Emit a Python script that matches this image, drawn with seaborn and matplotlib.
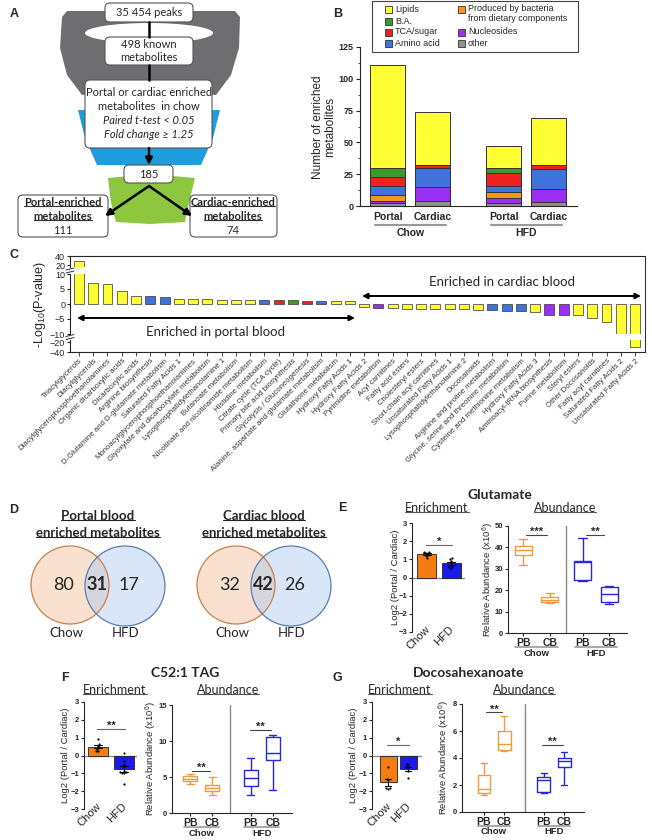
import matplotlib
matplotlib.use('Agg')
import matplotlib.pyplot as plt
from matplotlib.patches import Polygon, Ellipse, Circle, FancyBboxPatch, Rectangle
from matplotlib.ticker import MultipleLocator
import matplotlib.transforms as mtransforms
import numpy as np
import pandas as pd
import seaborn as sns

sns.set_style('ticks')
plt.rcParams['font.family'] = ['Liberation Sans', 'DejaVu Sans']
plt.rcParams['mathtext.default'] = 'regular'
plt.rcParams['axes.linewidth'] = 0.8

CAL = ['Lato', 'DejaVu Sans']

# ---------------- data ----------------
peaks_n = '35 454'
known_n = 498
enriched_n = 185
portal_n = 111
cardiac_n = 74

b_sites = ['Portal', 'Cardiac', 'Portal', 'Cardiac']
b_diets = ['Chow', 'HFD']
b_pos = [0, 1, 2.57, 3.57]
bact = 'Produced by bacteria\nfrom dietary components'
b_classes = ['other', 'Nucleosides', bact, 'Amino acid', 'TCA/sugar', 'B.A.', 'Lipids']
b_other = [2, 4, 2, 3]
b_nucleosides = [2, 11, 4, 10]
b_bacteria = [5, 0, 5, 0]
b_amino = [7, 15, 5, 16]
b_tca = [7, 2, 10, 3]
b_ba = [7, 0, 4, 0]
b_lipids = [81, 42, 17, 37]

pal = {'Lipids': '#ffff33', 'B.A.': '#3a9a2a', 'TCA/sugar': '#ee2020',
       'Amino acid': '#3f72dc', bact: '#f7941d', 'Nucleosides': '#9b30f5',
       'other': '#909090'}

c_labels = ['Triacylglycerols', 'Diacylglycerols', 'Diacylglycerophosphoethanolamines',
            'Organic dicarboxylic acids', 'Dicarboxylic acids', 'Arginine biosynthesis',
            'D-Glutamine and D-glutamate metabolism', 'Saturated Fatty Acids 1',
            'Monoacylglycerophosphoethanolamines', 'Glyoxylate and dicarboxylate metabolism',
            'Lysophosphatidylethanolamine 1', 'Butanoate metabolism',
            'Nicotinate and nicotinamide metabolism', 'Histidine metabolism',
            'Citrate cycle (TCA cycle)', 'Primary bile acid biosynthesis',
            'Glycolysis / Gluconeogenesis', 'Alanine, aspartate and glutamate metabolism',
            'Glutathione metabolism', 'Hydroxy Fatty Acids 1', 'Hydroxy Fatty Acids 2',
            'Pyrimidine metabolism', 'Acyl carnitines', 'Fatty acid esters',
            'Cholesteryl esters', 'Short-chain acyl carnitines', 'Unsaturated Fatty Acids 1',
            'Lysophosphatidylethanolamine 2', 'Docosanoids', 'Arginine and proline metabolism',
            'Glycine, serine and threonine metabolism', 'Cysteine and methionine metabolism',
            'Hydroxy Fatty Acids 3', 'Aminoacyl-tRNA biosynthesis', 'Purine metabolism',
            'Steryl esters', 'Other Docosanoids', 'Fatty acyl carnitines',
            'Saturated Fatty Acids 2', 'Unsaturated Fatty Acids 2']
c_values = [30, 7.0, 6.7, 4.2, 2.8, 2.6, 2.2, 1.8, 1.7, 1.7, 1.5, 1.4, 1.4, 1.3, 1.2, 1.2,
            1.0, 0.9, 0.9, 0.9, -1.1, -1.3, -1.4, -1.5, -1.6, -1.7, -1.7, -1.8, -1.9, -2.1,
            -2.3, -2.3, -2.8, -3.6, -3.7, -3.8, -4.8, -6.0, -9.9, -30]
L, A, T, B, N = 'Lipids', 'Amino acid', 'TCA/sugar', 'B.A.', 'Nucleosides'
c_classes = [L, L, L, L, L, A, A, L, L, L, L, L, L, A, T, B, T, A, L, L,
             L, N, L, L, L, L, L, L, L, A, A, A, L, N, N, L, L, L, L, L]

venn_portal = [80, 31, 17]
venn_cardiac = [32, 42, 26]

glu_chow = [1.4, 1.35, 1.4, 1.25, 1.1, 1.2]
glu_hfd = [1.0, 1.05, 0.6, 0.75, 0.65, 0.55, 0.9]
tag_chow = [0.93, 0.65, 0.56, 0.46, 0.37, 0.28, 0.25]
tag_hfd = [0.15, -0.3, -0.55, -0.85, -0.9, -0.95, -1.0, -1.0, -1.6]
dha_chow = [-0.65, -1.3, -1.4, -1.85, -1.85, -1.9]
dha_hfd = [-0.45, -0.55, -0.65, -0.7, -0.85, -1.25]

# abundance: min, Q1, median, Q3, max  (x10^6)
glu_boxes = [[32.0, 36.4, 38.7, 40.6, 44.1], [14.2, 14.7, 15.5, 16.7, 18.9],
             [24.3, 24.8, 33.3, 33.6, 44.4], [13.6, 14.7, 18.1, 21.7, 22.1]]
tag_boxes = [[4.0, 4.38, 4.7, 5.08, 5.4], [2.54, 3.0, 3.46, 3.92, 4.94],
             [2.45, 3.7, 4.85, 6.0, 7.6], [3.23, 7.4, 8.3, 10.5, 10.9]]
dha_boxes = [[1.23, 1.41, 1.73, 2.77, 3.63], [4.49, 4.62, 5.04, 5.98, 7.09],
             [1.41, 1.46, 2.4, 2.57, 2.89], [1.98, 3.31, 3.8, 4.0, 4.42]]
box_sites = ['PB', 'CB', 'PB', 'CB']
box_diets = ['Chow', 'Chow', 'HFD', 'HFD']

enr_pal = {'Chow': '#f47c10', 'HFD': '#1a1aeb'}
box_pal = {'Chow': '#f39a3a', 'HFD': '#2727dc'}

# ---------------- figure ----------------
W, H = 652, 840
fig = plt.figure(figsize=(6.52, 8.4), dpi=100)


def rect(x0, y0, x1, y1):
    return [x0 / W, 1 - y1 / H, (x1 - x0) / W, (y1 - y0) / H]


ov = fig.add_axes([0, 0, 1, 1], zorder=10)
ov.set_xlim(0, W)
ov.set_ylim(H, 0)
ov.axis('off')
renderer = fig.canvas.get_renderer()


def utext(x, y, s, color='#333', **kw):
    t = ov.text(x, y, s, ha='center', va='center', **kw)
    bb = t.get_window_extent(renderer).transformed(ov.transData.inverted())
    yb = max(bb.y0, bb.y1) - 1.5
    ov.plot([bb.x0, bb.x1], [yb, yb], color=color, lw=0.8)
    return t


def letter(x, y, s):
    ov.text(x, y, s, fontsize=9, fontweight='bold', ha='center', va='center')


# ---- A: funnel ----
letter(14, 14, 'A')
ov.add_patch(Polygon([(62, 17), (67, 11), (235, 11), (240, 17), (239, 48), (231, 75),
                      (216, 95), (149, 91), (82, 95), (67, 75), (60, 48)], fc='#6e6e70', ec='none'))
ov.add_patch(Ellipse((149, 33), 128, 20, fc='white', ec='none'))
ov.add_patch(Polygon([(78, 110), (220, 110), (213, 138), (201, 165), (97, 165), (85, 138)],
                     fc='#1e9cdc', ec='none'))
ov.add_patch(Polygon([(108, 178), (150, 174), (195, 178), (189, 203), (185, 222), (150, 224),
                      (116, 222), (111, 203)], fc='#8dc63f', ec='none'))
for x0, y0, x1, y1 in [(105, 3, 193, 22), (105, 37, 193, 65), (85, 80, 212, 148),
                       (124, 165, 173, 183), (18, 195, 108, 237), (190, 195, 277, 237)]:
    ov.add_patch(FancyBboxPatch((x0, y0), x1 - x0, y1 - y0,
                                boxstyle='round,pad=0,rounding_size=5',
                                fc='white', ec='#555555', lw=0.8))
ov.plot([149, 149], [22, 37], color='k', lw=1.8)
ov.plot([149, 149], [65, 80], color='k', lw=1.8)
arr = dict(arrowstyle='-|>', color='k', lw=1.8, mutation_scale=10, shrinkA=0, shrinkB=0)
ov.annotate('', xy=(149, 165), xytext=(149, 148), arrowprops=arr)
ov.annotate('', xy=(105, 216), xytext=(149, 186), arrowprops=arr)
ov.annotate('', xy=(192, 216), xytext=(149, 186), arrowprops=arr)
ov.text(149, 13, f'{peaks_n} peaks', fontsize=8, family=CAL, ha='center', va='center')
ov.text(149, 51, f'{known_n} known\nmetabolites', fontsize=8, family=CAL, ha='center',
        va='center', linespacing=1.25)
ov.text(149, 92, 'Portal or cardiac enriched', fontsize=8, family=CAL, ha='center', va='center')
ov.text(149, 106, 'metabolites  in chow', fontsize=8, family=CAL, ha='center', va='center')
ov.text(149, 121, 'Paired t-test < 0.05', fontsize=8, family=CAL, style='italic',
        ha='center', va='center')
ov.text(149, 135, 'Fold change \u2265 1.25', fontsize=8, family=CAL, style='italic',
        ha='center', va='center')
ov.text(149, 174, str(enriched_n), fontsize=8, family=CAL, ha='center', va='center')
utext(63, 202, 'Portal-enriched', fontsize=8, family=CAL, fontweight='bold')
utext(63, 216, 'metabolites', fontsize=8, family=CAL, fontweight='bold')
ov.text(63, 230, str(portal_n), fontsize=8, family=CAL, ha='center', va='center')
utext(233, 202, 'Cardiac-enriched', fontsize=8, family=CAL, fontweight='bold')
utext(233, 216, 'metabolites', fontsize=8, family=CAL, fontweight='bold')
ov.text(233, 230, str(cardiac_n), fontsize=8, family=CAL, ha='center', va='center')

# ---- B: stacked bars ----
letter(338, 14, 'B')
axb = fig.add_axes(rect(360, 47, 577, 206))
layers = np.cumsum(np.array([b_other, b_nucleosides, b_bacteria, b_amino, b_tca, b_ba,
                             b_lipids]), axis=0)
for i in range(len(b_classes) - 1, -1, -1):
    sns.barplot(x=b_pos, y=layers[i], native_scale=True, color=pal[b_classes[i]],
                width=0.78, edgecolor='#333333', linewidth=0.7, errorbar=None,
                saturation=1, ax=axb)
axb.set_xlim(-0.62, 4.2)
axb.set_ylim(0, 125)
axb.set_yticks([0, 25, 50, 75, 100, 125])
axb.yaxis.set_minor_locator(MultipleLocator(12.5))
axb.set_xticks(b_pos, b_sites)
axb.tick_params(axis='x', length=0, pad=4, labelsize=7.5)
axb.tick_params(axis='y', which='major', length=3, labelsize=6.5, pad=1.5)
axb.tick_params(axis='y', which='minor', length=1.5)
for lbl in axb.get_xticklabels() + axb.get_yticklabels():
    lbl.set_fontweight('bold')
axb.spines[['top', 'right']].set_visible(False)
axb.set_xlabel('')
axb.set_ylabel('')
tb = mtransforms.blended_transform_factory(axb.transData, axb.transAxes)
for k, d in enumerate(b_diets):
    p0, p1 = b_pos[2 * k], b_pos[2 * k + 1]
    axb.plot([p0 - 0.29, p1 + 0.29], [-0.12, -0.12], color='#999', lw=1.5, transform=tb,
             clip_on=False)
    axb.text((p0 + p1) / 2, -0.17, d, transform=tb, ha='center', va='center', fontsize=7.5,
             fontweight='bold')
ov.text(324, 127, 'Number of enriched\nmetabolites', rotation=90, fontsize=8.5,
        ha='center', va='center', linespacing=1.1)
# legend
ov.add_patch(Rectangle((372, 0.5), 206, 51.5, fc='white', ec='#444', lw=0.8))
col1 = ['Lipids', 'B.A.', 'TCA/sugar', 'Amino acid']
col2 = [bact, 'Nucleosides', 'other']
rows = [9, 21, 32, 43]
for name, y in zip(col1, rows):
    ov.add_patch(Rectangle((385, y - 3.5), 7, 7, fc=pal[name], ec='#333', lw=0.6))
    ov.text(395, y, name, fontsize=6.5, va='center', ha='left')
for name, y in zip(col2, [rows[0], rows[2], rows[3]]):
    ov.add_patch(Rectangle((458, y - 3.5), 7, 7, fc=pal[name], ec='#333', lw=0.6))
    if '\n' in name:
        ov.text(468, y - 5, name, fontsize=6.5, va='top', ha='left', linespacing=1.15)
    else:
        ov.text(468, y, name, fontsize=6.5, va='center', ha='left')

# ---- C: broken-axis bars ----
letter(14, 255, 'C')
c_df = pd.DataFrame({'pathway': c_labels, 'logp': c_values, 'cls': c_classes})
c_top = fig.add_axes(rect(70, 256, 645, 267))
c_mid = fig.add_axes(rect(70, 274, 645, 334))
c_bot = fig.add_axes(rect(70, 340, 645, 352))
for a in (c_top, c_mid, c_bot):
    sns.barplot(data=c_df, x='pathway', y='logp', hue='cls', palette=pal, dodge=False,
                width=0.7, edgecolor='#333333', linewidth=0.5, errorbar=None, legend=False,
                saturation=1, ax=a)
    a.set_xlim(-0.63, 39.7)
    a.set_xlabel('')
    a.set_ylabel('')
    a.spines[['top', 'right', 'bottom']].set_visible(False)
    a.tick_params(axis='y', labelsize=6.5, length=2.5, pad=1)
    a.tick_params(axis='x', bottom=False, labelbottom=False)
c_top.set_ylim(15.6, 40)
c_top.set_yticks([20, 40])
c_top.spines['top'].set_visible(True)
c_mid.set_ylim(-10, 10)
c_mid.set_yticks([-10, -5, 0, 5, 10])
c_bot.set_ylim(-40, -16)
c_bot.set_yticks([-40, -20])
c_bot.spines['bottom'].set_visible(True)
c_bot.tick_params(axis='x', bottom=True, labelbottom=True, length=3, width=0.6, pad=1)
c_bot.set_xticks(range(len(c_labels)))
c_bot.set_xticklabels(c_labels, rotation=45, ha='right', rotation_mode='anchor',
                      fontsize=5.6, color='#333')
ov.plot([645, 645], [256, 352], color='#333', lw=0.8)
for yb in (270.5, 337):
    ov.plot([66, 74], [yb - 0.5, yb - 2.5], color='#333', lw=0.7)
    ov.plot([66, 74], [yb + 2.5, yb + 0.5], color='#333', lw=0.7)
ov.text(40, 304, '-Log$_{10}$(P-value)', rotation=90, fontsize=9, ha='center', va='center')
darr = dict(arrowstyle='<|-|>', color='k', lw=1.4, mutation_scale=8, shrinkA=0, shrinkB=0)
ov.annotate('', xy=(355, 318), xytext=(77, 318), arrowprops=darr)
ov.annotate('', xy=(641, 296), xytext=(362, 296), arrowprops=darr)
ov.text(215, 332, 'Enriched in portal blood', fontsize=9.5, family=CAL, ha='center',
        va='center')
ov.text(502, 282, 'Enriched in cardiac blood', fontsize=9.5, family=CAL, ha='center',
        va='center')

# ---- D: Venn diagrams ----
letter(14, 510, 'D')
for cx, title, counts in [(0, 'Portal blood', venn_portal), (166, 'Cardiac blood', venn_cardiac)]:
    utext(98 + cx, 516, title, fontsize=9.5, family=CAL, fontweight='bold', color='#222')
    utext(98 + cx, 533, 'enriched metabolites', fontsize=9.5, family=CAL, fontweight='bold',
          color='#222')
    ov.add_patch(Circle((70 + cx, 585), 39, fc='#f6be96', alpha=0.45, ec='none'))
    ov.add_patch(Circle((125 + cx, 586), 40, fc='#aac8f0', alpha=0.45, ec='none'))
    ov.add_patch(Circle((70 + cx, 585), 39, fill=False, ec='#c98048', lw=0.9))
    ov.add_patch(Circle((125 + cx, 586), 40, fill=False, ec='#5a7cb0', lw=0.9))
    ov.text(64 + cx, 585, str(counts[0]), fontsize=13, family=CAL, ha='center', va='center')
    ov.text(97 + cx, 585, str(counts[1]), fontsize=13, family=CAL, fontweight='bold',
            ha='center', va='center')
    ov.text(129 + cx, 585, str(counts[2]), fontsize=13, family=CAL, ha='center', va='center')
    ov.text(66 + cx, 633, 'Chow', fontsize=9.5, family=CAL, ha='center', va='center')
    ov.text(126 + cx, 633, 'HFD', fontsize=9.5, family=CAL, ha='center', va='center')


# ---- E/F/G ----
def enrichment(r, chow, hfd, xlim, width, sig_y, stars):
    ax = fig.add_axes(rect(*r))
    df = pd.DataFrame({'diet': ['Chow'] * len(chow) + ['HFD'] * len(hfd),
                       'val': list(chow) + list(hfd)})
    sns.barplot(data=df, x='diet', y='val', hue='diet', palette=enr_pal, errorbar='se',
                capsize=0.3, err_kws={'color': 'k', 'linewidth': 0.8}, width=width,
                edgecolor='#222', linewidth=0.6, legend=False, saturation=1, ax=ax)
    sns.swarmplot(data=df, x='diet', y='val', color='k', size=1.6, ax=ax)
    ax.axhline(0, color='#888', lw=1, zorder=0.5)
    ax.set_xlim(*xlim)
    ax.set_ylim(-3, 3)
    ax.set_yticks(range(-3, 4))
    ax.set_xticks([])
    ax.set_xlabel('')
    ax.set_ylabel('')
    ax.spines[['top', 'right', 'bottom']].set_visible(False)
    ax.tick_params(axis='y', labelsize=5.5, length=2.5, pad=1)
    for lbl in ax.get_yticklabels():
        lbl.set_fontweight('bold')
    tr = mtransforms.blended_transform_factory(ax.transData, ax.transAxes)
    for i, d in enumerate(['Chow', 'HFD']):
        ax.text(i + 0.05, 0.04, d, transform=tr, rotation=45, ha='right', va='center',
                rotation_mode='anchor', fontsize=8, clip_on=False)
    ax.plot([-0.05, 1.05], [sig_y, sig_y], color='#666', lw=0.8)
    ax.text(0.5, sig_y, stars, ha='center', va='baseline', fontsize=8, fontweight='bold')
    return ax


def abundance(r, boxes, pos, xlim, sep, width, ymax, ystep, sigs):
    ax = fig.add_axes(rect(*r))
    df = pd.DataFrame({'pos': np.repeat(pos, [len(b) for b in boxes]),
                       'diet': np.repeat(box_diets, [len(b) for b in boxes]),
                       'val': np.concatenate(boxes)})
    sns.boxplot(data=df, x='pos', y='val', hue='diet', palette=box_pal, native_scale=True,
                dodge=False, fill=False, whis=(0, 100), width=width, linewidth=1.0,
                legend=False, ax=ax)
    ax.axvline(sep, color='#888', lw=1)
    ax.set_xlim(*xlim)
    ax.set_ylim(0, ymax)
    ax.set_yticks(np.arange(0, ymax + 0.01, ystep))
    ax.set_xticks(pos, box_sites)
    ax.set_xlabel('')
    ax.set_ylabel('')
    ax.spines[['top', 'right']].set_visible(False)
    ax.tick_params(axis='y', labelsize=5.5, length=2.5, pad=1)
    ax.tick_params(axis='x', labelsize=7.5, length=2.5, pad=1)
    for lbl in ax.get_yticklabels() + ax.get_xticklabels():
        lbl.set_fontweight('bold')
    tr = mtransforms.blended_transform_factory(ax.transData, ax.transAxes)
    h = r[3] - r[1]
    for k, d in enumerate(b_diets):
        p0, p1 = pos[2 * k], pos[2 * k + 1]
        ax.plot([p0 - 0.3, p1 + 0.3], [-14 / h, -14 / h], color='#999', lw=1.2,
                transform=tr, clip_on=False)
        ax.text((p0 + p1) / 2, -20 / h, d, transform=tr, ha='center', va='center',
                fontsize=6.8, fontweight='bold')
    for x0, x1, y, s in sigs:
        ax.plot([x0, x1], [y, y], color='#444', lw=0.8)
        ax.text((x0 + x1) / 2, y, s, ha='center', va='baseline', fontsize=8,
                fontweight='bold')
    return ax


# E glutamate
letter(342, 508, 'E')
ov.text(500, 495, 'Glutamate', fontsize=10, family=CAL, fontweight='bold', ha='center',
        va='center')
utext(437, 508, 'Enrichment', fontsize=9, family=CAL, color='#555')
utext(565, 508, 'Abundance', fontsize=9, family=CAL, color='#555')
enrichment((412, 523, 465, 632), glu_chow, glu_hfd, (-0.62, 1.58), 0.79, 1.8, '*')
abundance((508, 526, 627, 633), glu_boxes, [0, 1, 2.23, 3.23], (-0.57, 3.9), 1.62, 0.64,
          50, 10, [(0.1, 0.9, 45.7, '***'), (2.35, 3.05, 45.7, '**')])
ov.text(395, 577, 'Log2 (Portal / Cardiac)', rotation=90, fontsize=6.8, ha='center',
        va='center')
ov.text(488, 580, 'Relative Abundance (x10$^6$)', rotation=90, fontsize=6.8, ha='center',
        va='center')

# F C52:1 TAG
letter(65, 678, 'F')
ov.text(185, 673, 'C52:1 TAG', fontsize=10, family=CAL, fontweight='bold', ha='center',
        va='center')
utext(115, 690, 'Enrichment', fontsize=9, family=CAL, color='#555')
utext(228, 690, 'Abundance', fontsize=9, family=CAL, color='#555')
enrichment((84, 702, 137, 809), tag_chow, tag_hfd, (-0.54, 1.5), 0.77, 1.5, '**')
abundance((172, 705, 292, 813), tag_boxes, [0, 1, 2.73, 3.73], (-0.82, 4.6), 1.82, 0.64,
          15, 5, [(0.1, 0.9, 5.86, '**'), (2.7, 3.65, 11.5, '**')])
ov.text(66, 755, 'Log2 (Portal / Cardiac)', rotation=90, fontsize=6.8, ha='center',
        va='center')
ov.text(151, 759, 'Relative Abundance (x10$^6$)', rotation=90, fontsize=6.8, ha='center',
        va='center')

# G docosahexanoate
letter(337, 678, 'G')
ov.text(469, 673, 'Docosahexanoate', fontsize=10, family=CAL, fontweight='bold',
        ha='center', va='center')
utext(400, 690, 'Enrichment', fontsize=9, family=CAL, color='#555')
utext(524, 690, 'Abundance', fontsize=9, family=CAL, color='#555')
enrichment((372, 702, 422, 809), dha_chow, dha_hfd, (-0.8, 1.7), 0.85, 0.6, '*')
abundance((462, 704, 584, 812), dha_boxes, [0, 1, 2.93, 3.93], (-1.07, 4.9), 2.0, 0.62,
          8, 2, [(0.1, 0.9, 7.38, '**'), (2.85, 3.85, 4.99, '**')])
ov.text(354, 755, 'Log2 (Portal / Cardiac)', rotation=90, fontsize=6.8, ha='center',
        va='center')
ov.text(444, 758, 'Relative Abundance (x10$^6$)', rotation=90, fontsize=6.8, ha='center',
        va='center')

fig.savefig('out.png', dpi=100)
